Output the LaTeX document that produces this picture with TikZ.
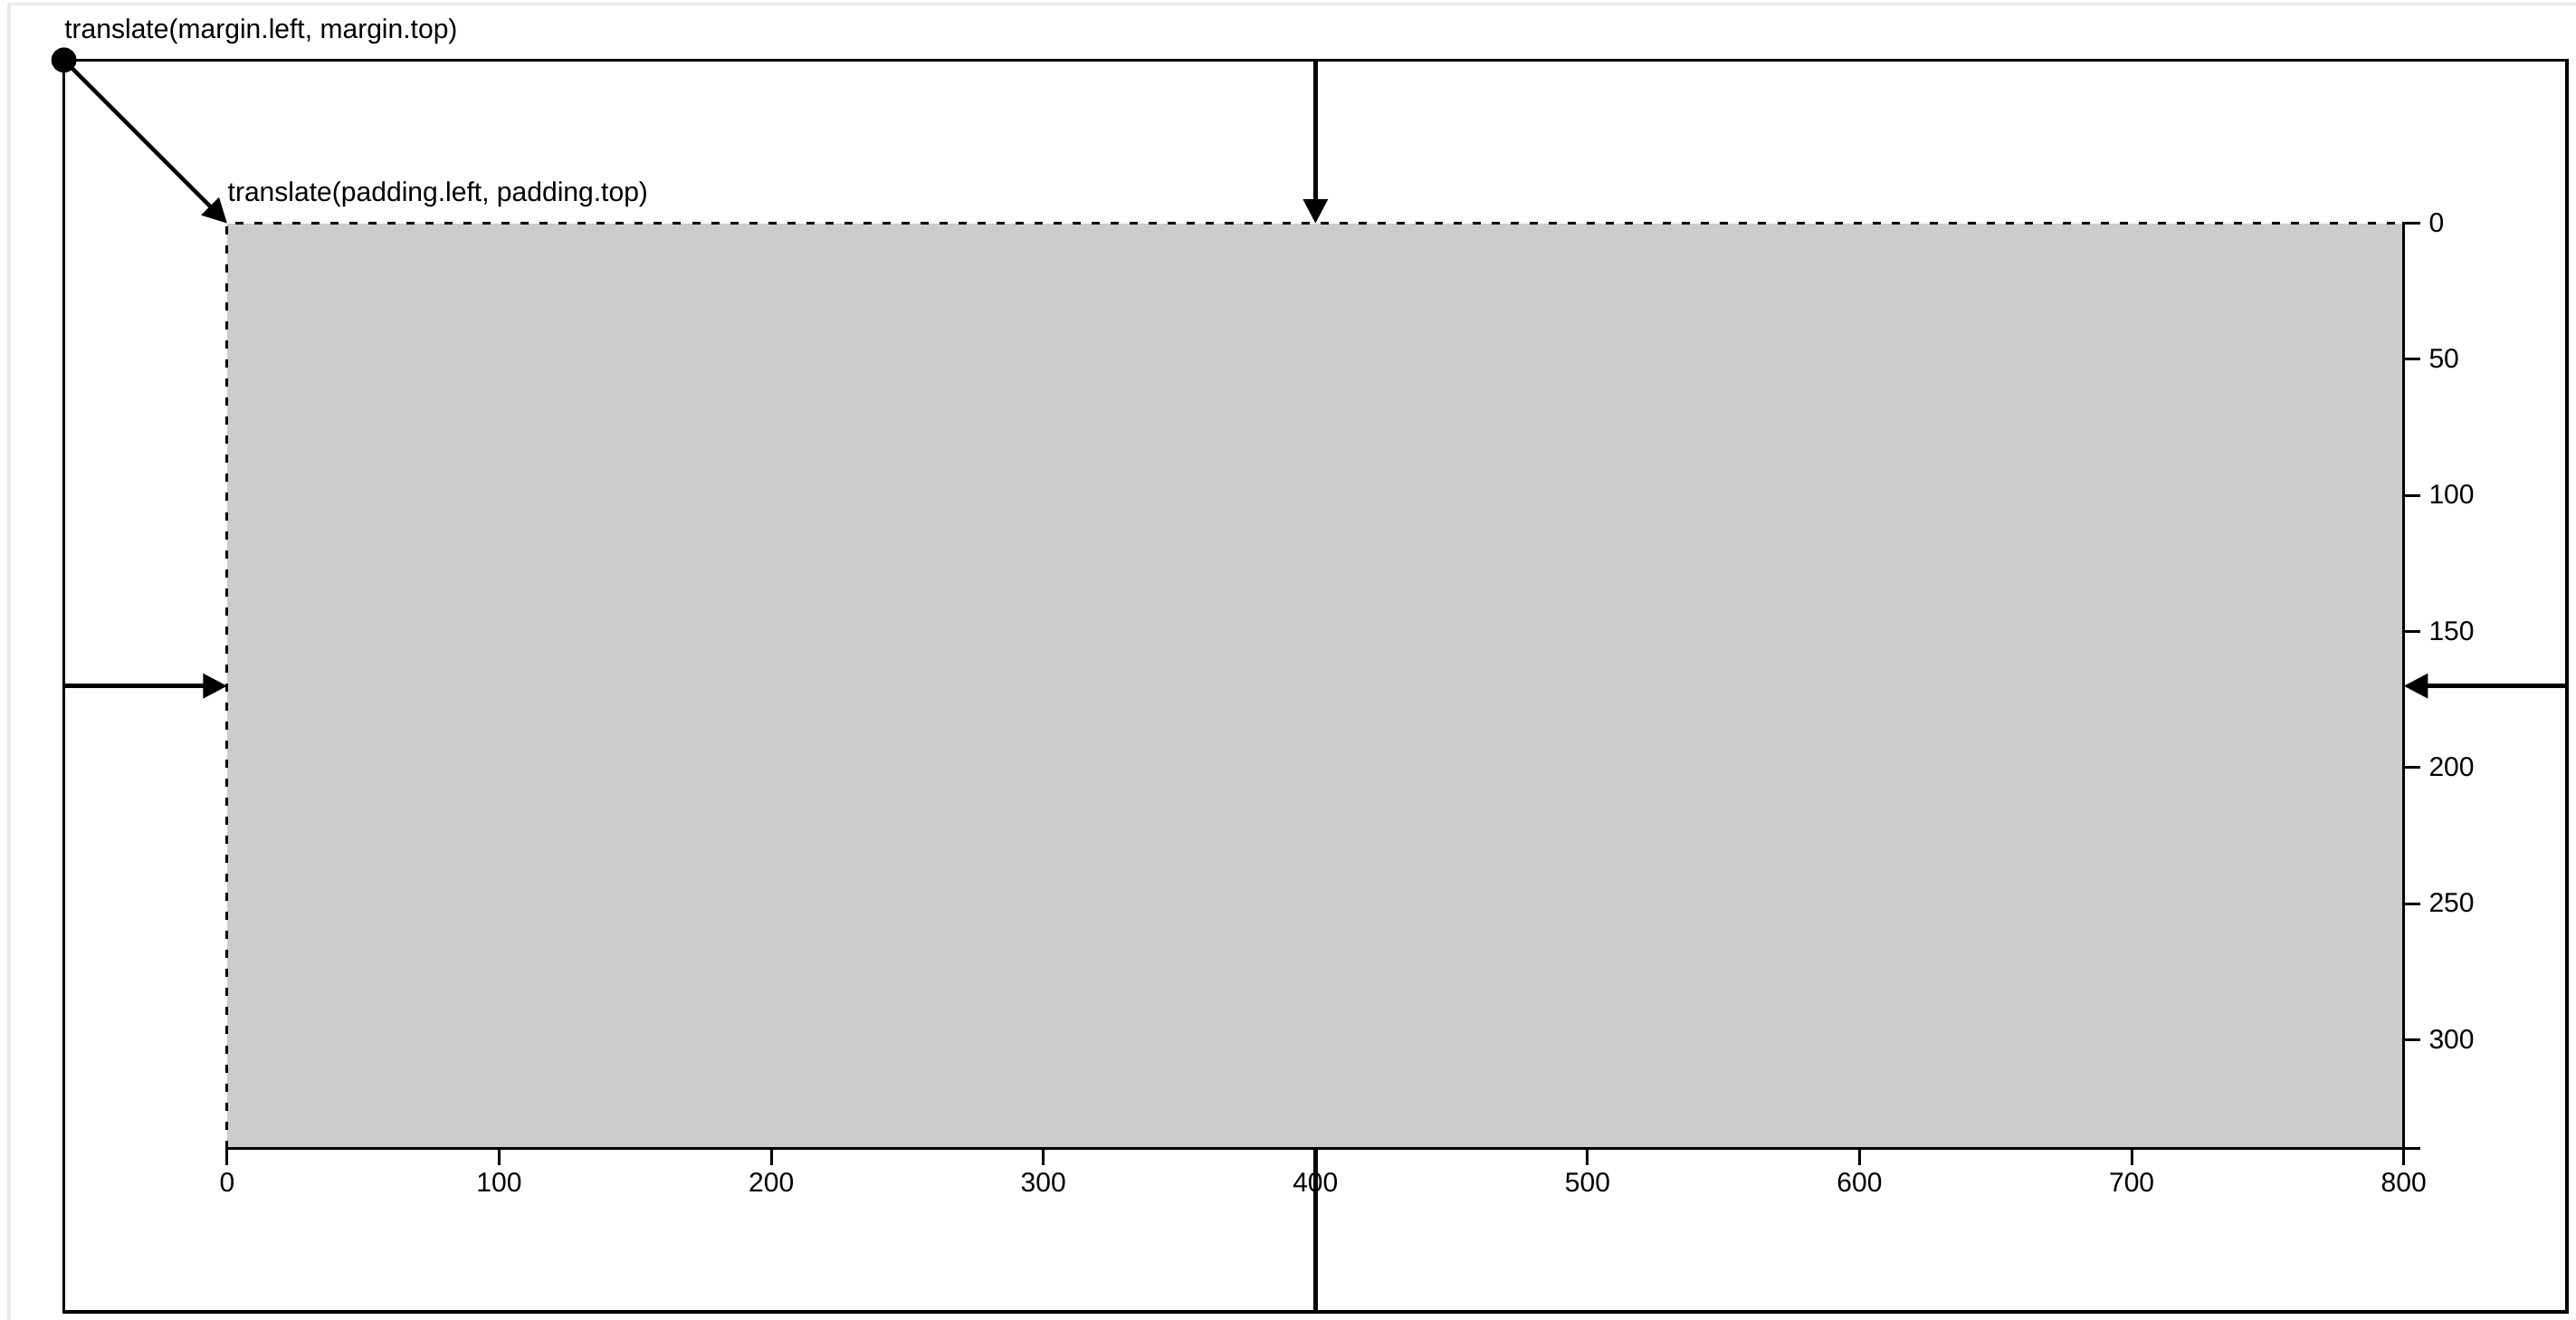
\documentclass[tikz,border=0pt]{standalone}
\usepackage{fontspec}
\setmainfont{Liberation Sans}
\usetikzlibrary{arrows.meta}
\begin{document}
\begin{tikzpicture}[x=0.03006cm,y=-0.03006cm,
  lbl/.style={inner sep=0pt,font=\fontsize{8.55}{10}\selectfont},
  conn/.style={line width=1.25pt,-{Triangle[length=7.6pt,width=7.6pt]}},
  plainconn/.style={line width=1.25pt},
  outerframe/.style={line width=0.95pt},
  axisline/.style={line width=0.85pt},
  dashframe/.style={line width=0.85pt,dash pattern=on 2.565pt off 3.42pt},
  dotnode/.style={circle,fill=black,inner sep=0pt,minimum size=7.9pt},
  pagerule/.style={line width=0.9pt,draw=black!8}
]
\useasboundingbox (0,0) rectangle (946.79,485.03);
% faint page border
\draw[pagerule] (3.3,485.03) -- (3.3,1.4) -- (946.79,1.4);

\begin{scope}[shift={(23.49,22.06)}]
% key coordinates
\path (0.001,0) coordinate (otl);
\path (920,460) coordinate (obr);
\path (60,60) coordinate (itl);
\path (860,400) coordinate (ibr);
\path (460,0) coordinate (topout);
\path (460,60) coordinate (topin);
\path (0.001,230) coordinate (leftout);
\path (60,230) coordinate (leftin);
\path (920,230) coordinate (rightout);
\path (860,230) coordinate (rightin);
\path (460,400) coordinate (botin);
\path (460,460) coordinate (botout);

% inner gray area
\fill[black!20] (itl) rectangle (ibr);
\draw[dashframe] (60,400) -- (itl) -- (860,60);

% outer frame
\draw[outerframe] (otl) rectangle (obr);

% labels
\node[lbl,anchor=base west] (mlabel) at (0.001,-8) {translate(margin.left, margin.top)};
\node[lbl,anchor=base west] (plabel) at (60,52) {translate(padding.left, padding.top)};

% x axis
\draw[axisline] (60,406) -- (60,400) -- (860,400) -- (860,406);
\foreach \v in {0,100,...,800}{
  \draw[axisline] (60+\v,400) -- (60+\v,406);
  \node[lbl,anchor=base] (xl\v) at (60+\v,416) {\v};
}
% y axis
\draw[axisline] (866,60) -- (860,60) -- (860,400) -- (866,400);
\foreach \v in {0,50,...,300}{
  \draw[axisline] (860,60+\v) -- (866,60+\v);
  \node[lbl,anchor=base west] (yl\v) at (869,63.2+\v) {\v};
}

% connectors
\node[dotnode] (dot) at (otl) {};
\draw[conn] (dot.center) -- (itl);
\draw[conn] (topout) -- (topin);
\draw[conn] (leftout) -- (leftin);
\draw[conn] (rightout) -- (rightin);
\draw[plainconn] (botin) -- (botout);
\end{scope}
\end{tikzpicture}
\end{document}
